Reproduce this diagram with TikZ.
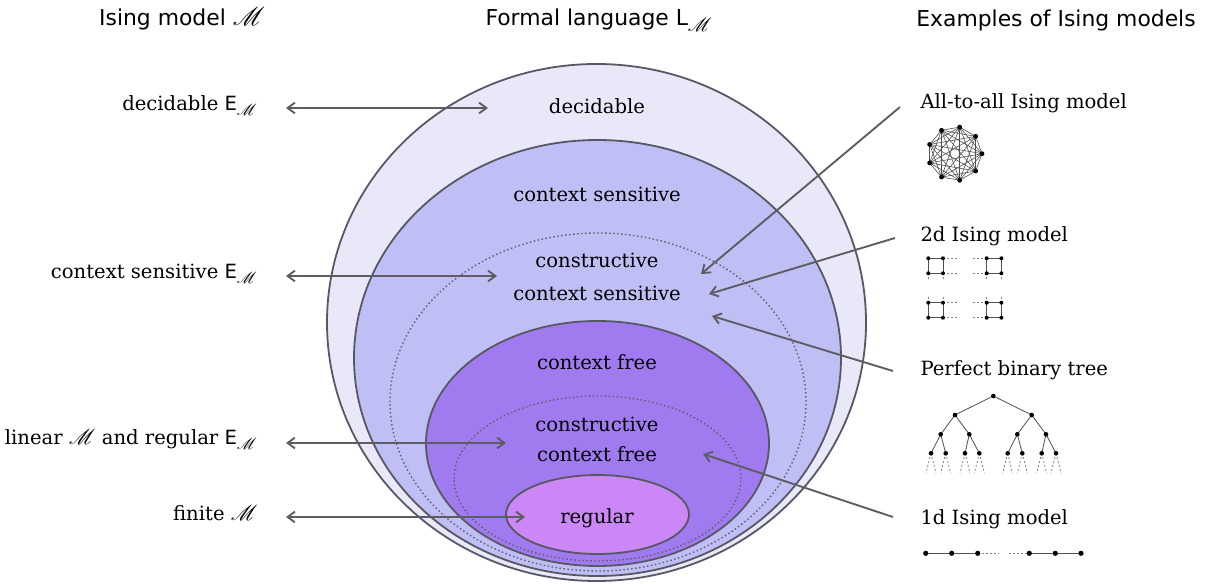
\documentclass[tikz,border=0pt]{standalone}
\usepackage{fontspec}
\usepackage{graphicx}
\usepackage{mathrsfs}
\setmainfont{DejaVu Serif}
\setsansfont{DejaVu Sans}
\usetikzlibrary{arrows.meta}

\newcommand{\Msc}{\scalebox{1.12}{$\mathscr{M}$}}
\newcommand{\EM}{\textsf{E}$_{\scalebox{1.2}{$\scriptstyle\mathscr{M}$}}$}
\newcommand{\LM}{L$_{\scalebox{1.2}{$\scriptstyle\mathscr{M}$}}$}

\tikzset{every picture/.style={line width=0.75pt}}
\tikzset{
  setline/.style={draw={rgb, 255:red, 88; green, 88; blue, 100}, line width=1.35pt},
  dotline/.style={draw={rgb, 255:red, 96; green, 96; blue, 106}, line width=1.05pt, dash pattern=on 1.1pt off 1.9pt},
  arrline/.style={draw={rgb, 255:red, 92; green, 92; blue, 98}, line width=1.4pt},
  biarr/.style={arrline, {Straight Barb[length=5.5pt,width=8pt]}-{Straight Barb[length=5.5pt,width=8pt]}},
  onearr/.style={arrline, -{Straight Barb[length=5.5pt,width=8pt]}},
  head/.style={anchor=base, inner sep=0pt, font=\sffamily\fontsize{16.4}{19}\selectfont},
  lang/.style={anchor=base, inner sep=0pt, font=\fontsize{14.7}{17}\selectfont},
  lbl/.style={inner sep=0pt, font=\fontsize{14.7}{17}\selectfont},
  dot/.style={fill=black},
  iconedge/.style={draw={rgb, 255:red, 80; green, 80; blue, 80}, line width=0.6pt},
  iconfree/.style={draw={rgb, 255:red, 130; green, 130; blue, 130}, line width=0.6pt, dash pattern=on 1.5pt off 1.5pt},
}

\begin{document}
\begin{tikzpicture}[x=0.75pt,y=0.75pt,yscale=-1,xscale=1]
\useasboundingbox (0,0) rectangle (1207,584);

%Shape: Ellipse [decidable]
\draw  [setline, fill={rgb, 255:red, 233; green, 232; blue, 248}] (327,322.5) .. controls (327,179.73) and (447.65,64) .. (596.5,64) .. controls (745.35,64) and (866,179.73) .. (866,322.5) .. controls (866,465.27) and (745.35,581) .. (596.5,581) .. controls (447.65,581) and (327,465.27) .. (327,322.5) -- cycle ;
%Shape: Ellipse [context sensitive]
\draw  [setline, fill={rgb, 255:red, 191; green, 190; blue, 245}] (354,358) .. controls (354,237.6) and (463.01,140) .. (597.5,140) .. controls (731.99,140) and (841,237.6) .. (841,358) .. controls (841,478.4) and (731.99,576) .. (597.5,576) .. controls (463.01,576) and (354,478.4) .. (354,358) -- cycle ;
%Shape: Ellipse [constructive context sensitive]
\draw  [dotline] (390,402) .. controls (390,308.66) and (483.12,233) .. (598,233) .. controls (712.88,233) and (806,308.66) .. (806,402) .. controls (806,495.34) and (712.88,571) .. (598,571) .. controls (483.12,571) and (390,495.34) .. (390,402) -- cycle ;
%Shape: Ellipse [context free]
\draw  [setline, fill={rgb, 255:red, 160; green, 123; blue, 240}] (426,443.5) .. controls (426,375.84) and (502.78,321) .. (597.5,321) .. controls (692.22,321) and (769,375.84) .. (769,443.5) .. controls (769,511.16) and (692.22,566) .. (597.5,566) .. controls (502.78,566) and (426,511.16) .. (426,443.5) -- cycle ;
%Shape: Ellipse [constructive context free]
\draw  [dotline] (454,478.5) .. controls (454,432.94) and (518.25,396) .. (597.5,396) .. controls (676.75,396) and (741,432.94) .. (741,478.5) .. controls (741,524.06) and (676.75,561) .. (597.5,561) .. controls (518.25,561) and (454,524.06) .. (454,478.5) -- cycle ;
%Shape: Ellipse [regular]
\draw  [setline, fill={rgb, 255:red, 202; green, 135; blue, 245}] (506,514.5) .. controls (506,492.68) and (546.97,475) .. (597.5,475) .. controls (648.03,475) and (689,492.68) .. (689,514.5) .. controls (689,536.32) and (648.03,554) .. (597.5,554) .. controls (546.97,554) and (506,536.32) .. (506,514.5) -- cycle ;

% Text Node
\draw (182,26) node (hdmodel) [head] {Ising model \Msc};
% Text Node
\draw (599,26) node (hdlang) [head] {Formal language \LM};
% Text Node
\draw (1056,27) node (hdexam) [head] {Examples of Ising models};

% Text Node
\draw (597,114) node (tdec) [lang] {decidable};
% Text Node
\draw (597,201.5) node (tcs) [lang] {context sensitive};
% Text Node
\draw (597,268) node (tccs1) [lang] {constructive};
% Text Node
\draw (597,301) node (tccs2) [lang] {context sensitive};
% Text Node
\draw (597,370) node (tcf) [lang] {context free};
% Text Node
\draw (597,432) node (tccf1) [lang] {constructive};
% Text Node
\draw (597,462) node (tccf2) [lang] {context free};
% Text Node
\draw (597,523) node (treg) [lang] {regular};

% Text Node
\draw (258,111) node (ldec) [lbl, anchor=base east] {decidable \EM};
% Text Node
\draw (258,279) node (lcs) [lbl, anchor=base east] {context sensitive \EM};
% Text Node
\draw (258,445) node (llin) [lbl, anchor=base east] {linear \Msc{} and regular \EM};
% Text Node
\draw (258,520) node (lfin) [lbl, anchor=base east] {finite \Msc};

% Text Node
\draw (920,109) node (rall) [lbl, anchor=base west] {All-to-all Ising model};
% Text Node
\draw (920,242) node (r2d) [lbl, anchor=base west] {2d Ising model};
% Text Node
\draw (920,376) node (rtree) [lbl, anchor=base west] {Perfect binary tree};
% Text Node
\draw (920,524) node (r1d) [lbl, anchor=base west] {1d Ising model};

% arrows, left side
\coordinate (a1l) at (286,108); \coordinate (a1r) at (488,108);
\coordinate (a2l) at (286,276); \coordinate (a2r) at (497,276);
\coordinate (a3l) at (286,443); \coordinate (a3r) at (506,443);
\coordinate (a4l) at (286,517); \coordinate (a4r) at (525,517);
\draw [biarr] (a1l) -- (a1r);
\draw [biarr] (a2l) -- (a2r);
\draw [biarr] (a3l) -- (a3r);
\draw [biarr] (a4l) -- (a4r);

% arrows, right side
\coordinate (b1s) at (900,107); \coordinate (b1e) at (701,274);
\coordinate (b2s) at (895,238); \coordinate (b2e) at (709,294);
\coordinate (b3s) at (893,371); \coordinate (b3e) at (712,316);
\coordinate (b4s) at (893,517); \coordinate (b4e) at (703,454);
\draw [onearr] (b1s) -- (b1e);
\draw [onearr] (b2s) -- (b2e);
\draw [onearr] (b3s) -- (b3e);
\draw [onearr] (b4s) -- (b4e);

% all-to-all
\foreach \i in {0,...,8} \coordinate (k\i) at ([shift={(955,153.7)}]\i*40:27);
\foreach \i in {0,...,7} {
  \pgfmathtruncatemacro\n{\i+1}
  \foreach \j in {\n,...,8} \draw [iconedge, line width=0.45pt] (k\i) -- (k\j);
}
\foreach \i in {0,...,8} \fill [dot] (k\i) circle (2.4);

% 2d lattice
\foreach \x/\y/\h/\v [count=\s] in {928.3/258.3/1/1, 986.7/258.3/-1/1, 928.3/302.7/1/-1, 986.7/302.7/-1/-1} {
  \coordinate (g\s a) at (\x,\y);
  \coordinate (g\s b) at (\x+14.7,\y);
  \coordinate (g\s c) at (\x+14.7,\y+15);
  \coordinate (g\s d) at (\x,\y+15);
  \draw [iconedge] (g\s a) -- (g\s b) -- (g\s c) -- (g\s d) -- cycle;
  \ifnum\h=1
    \coordinate (g\s e) at (\x+30,\y); \coordinate (g\s f) at (\x+30,\y+15);
    \draw [iconfree] (g\s b) -- (g\s e); \draw [iconfree] (g\s c) -- (g\s f);
  \else
    \coordinate (g\s e) at (\x-14,\y); \coordinate (g\s f) at (\x-14,\y+15);
    \draw [iconfree] (g\s a) -- (g\s e); \draw [iconfree] (g\s d) -- (g\s f);
  \fi
  \ifnum\v=1
    \coordinate (g\s g) at (\x,\y+21); \coordinate (g\s h) at (\x+14.7,\y+21);
    \draw [iconfree] (g\s d) -- (g\s g); \draw [iconfree] (g\s c) -- (g\s h);
  \else
    \coordinate (g\s g) at (\x,\y-6); \coordinate (g\s h) at (\x+14.7,\y-6);
    \draw [iconfree] (g\s a) -- (g\s g); \draw [iconfree] (g\s b) -- (g\s h);
  \fi
  \foreach \c in {a,b,c,d} \fill [dot] (g\s\c) circle (2);
}

% binary tree
\coordinate (t1) at (993.3,396);
\coordinate (t2) at (955,415);    \coordinate (t3) at (1031.7,415);
\coordinate (t4) at (940.7,434.3); \coordinate (t5) at (969.3,434.3);
\coordinate (t6) at (1017.3,434.3); \coordinate (t7) at (1046,434.3);
\foreach \x [count=\i from 8] in {931,945.7,965,979.3,1007.7,1022.3,1041.7,1056}
  \coordinate (t\i) at (\x,453.3);
\foreach \i in {2,...,15} {
  \pgfmathtruncatemacro\p{\i/2}
  \draw [iconedge] (t\p) -- (t\i);
}
\foreach \i in {8,...,15} {
  \path (t\i) ++(-5,20) coordinate (ta\i) ++(10,0) coordinate (tb\i);
  \draw [iconfree] (t\i) -- (ta\i);
  \draw [iconfree] (t\i) -- (tb\i);
}
\foreach \i in {1,...,15} \fill [dot] (t\i) circle (2.3);

% 1d chain
\foreach \x [count=\i] in {925.7,951.7,977.7,1029.3,1055.3,1081}
  \coordinate (c\i) at (\x,553.3);
\coordinate (cm1) at (998.3,553.3); \coordinate (cm2) at (1009.3,553.3);
\draw [iconedge, line width=0.9pt] (c1) -- (c2) -- (c3);
\draw [iconedge, line width=0.9pt] (c4) -- (c5) -- (c6);
\draw [iconfree, line width=0.9pt] (c3) -- (cm1);
\draw [iconfree, line width=0.9pt] (cm2) -- (c4);
\foreach \i in {1,...,6} \fill [dot] (c\i) circle (2.6);

\end{tikzpicture}
\end{document}
